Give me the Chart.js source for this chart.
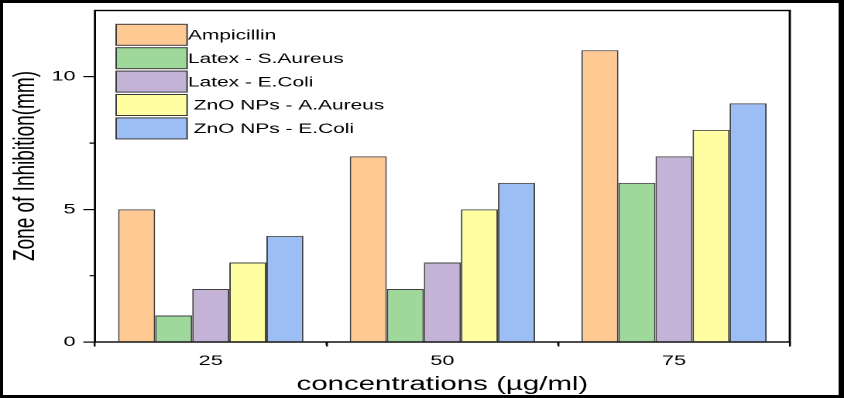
<!DOCTYPE html>
<html>
<head>
<meta charset="utf-8" />
<script src="https://cdn.jsdelivr.net/npm/chart.js@4.4.0/dist/chart.umd.min.js"></script>
<style>
 html, body { margin: 0; padding: 0; background: #fff; }
 #chart { display: block; }
</style>
<title>Zone of Inhibition</title>
</head>
<body>
<canvas id="chart" width="545" height="398" style="width:844px;height:398px"></canvas>
<script>
var concentrations = ['25', '50', '75'];
var ampicillin = [5, 7, 11];
var latexSAureus = [1, 2, 6];
var latexEColi = [2, 3, 7];
var znoAAureus = [3, 5, 8];
var znoEColi = [4, 6, 9];
var seriesNames = ['Ampicillin', 'Latex - S.Aureus', 'Latex - E.Coli', ' ZnO NPs - A.Aureus', ' ZnO NPs - E.Coli'];
var seriesColors = ['#FFC994', '#9ED99B', '#C4B3D6', '#FFFFA1', '#9DBEF5'];
var yTicks = [0, 5, 10];
var yMinorTicks = [2.5, 7.5];

// the original picture is stretched sideways, so draw narrow and let css widen it
var FONT = '"Liberation Sans", Arial, sans-serif';

var decor = {
    id: 'decor',
    beforeDraw: function(chart) {
        var ctx = chart.ctx;
        ctx.save();
        ctx.fillStyle = '#fff';
        ctx.fillRect(0, 0, chart.width, chart.height);
        ctx.restore();
    },
    afterDraw: function(chart) {
        var ctx = chart.ctx, a = chart.chartArea;
        var x = chart.scales.x, y = chart.scales.y;
        ctx.save();
        // box round the plot
        ctx.strokeStyle = '#000';
        ctx.lineWidth = 1.4;
        ctx.strokeRect(a.left, a.top, a.right - a.left, a.bottom - a.top);
        // minor ticks
        ctx.lineWidth = 1.2;
        ctx.beginPath();
        yMinorTicks.forEach(function(v) {
            var py = y.getPixelForValue(v);
            ctx.moveTo(a.left - 3.5, py);
            ctx.lineTo(a.left, py);
        });
        for (var i = 0; i < concentrations.length - 1; i++) {
            var px = (x.getPixelForValue(i) + x.getPixelForValue(i + 1)) / 2;
            ctx.moveTo(px, a.bottom);
            ctx.lineTo(px, a.bottom + 3);
        }
        ctx.stroke();
        // legend inside the plot
        ctx.font = '13.5px ' + FONT;
        ctx.textBaseline = 'middle';
        ctx.textAlign = 'left';
        chart.data.datasets.forEach(function(ds, i) {
            var top = 24.3 + i * 23.4;
            ctx.fillStyle = ds.backgroundColor;
            ctx.fillRect(75, top, 45.8, 21);
            ctx.strokeStyle = '#3a3a3a';
            ctx.lineWidth = 1;
            ctx.strokeRect(75, top, 45.8, 21);
            ctx.fillStyle = '#000';
            ctx.fillText(ds.label, 121.4, top + 11.5);
        });
        // axis titles
        ctx.font = '19px ' + FONT;
        ctx.textAlign = 'center';
        ctx.fillText('concentrations (µg/ml)', (a.left + a.right) / 2, 385);
        ctx.translate(16.8, 166);
        ctx.rotate(-Math.PI / 2);
        ctx.fillText('Zone of Inhibition(mm)', 0, 0);
        ctx.restore();
        // outer black frame
        ctx.save();
        ctx.fillStyle = '#000';
        ctx.fillRect(0, 0, chart.width, 3);
        ctx.fillRect(0, 395, chart.width, 3);
        ctx.fillRect(0, 0, 2, chart.height);
        ctx.fillRect(541.5, 0, 3.5, chart.height);
        ctx.restore();
    }
};

var seriesValues = [ampicillin, latexSAureus, latexEColi, znoAAureus, znoEColi];
var datasets = seriesValues.map(function(vals, i) {
    return {
        label: seriesNames[i],
        data: vals,
        backgroundColor: seriesColors[i],
        borderColor: '#404040',
        borderWidth: 1
    };
});

var chart = new Chart(document.getElementById('chart'), {
    type: 'bar',
    data: { labels: concentrations, datasets: datasets },
    options: {
        responsive: false,
        devicePixelRatio: 2,
        animation: false,
        layout: { padding: { top: 10.5, right: 35, left: 0, bottom: 0 } },
        plugins: { legend: { display: false }, tooltip: { enabled: false } },
        datasets: { bar: { categoryPercentage: 0.8, barPercentage: 1 } },
        scales: {
            x: {
                grid: { drawOnChartArea: false, tickLength: 4.5, color: '#000', lineWidth: 1.2 },
                border: { display: false },
                ticks: { font: { size: 14, family: FONT }, color: '#000', padding: 6, maxRotation: 0 },
                afterFit: function(s) { s.height = 56; }
            },
            y: {
                min: 0,
                max: 12.5,
                afterBuildTicks: function(s) { s.ticks = yTicks.map(function(v) { return { value: v }; }); },
                grid: { drawOnChartArea: false, tickLength: 7.5, color: '#000', lineWidth: 1.2 },
                border: { display: false },
                ticks: { font: { size: 14, family: FONT }, color: '#000', padding: 5 },
                afterFit: function(s) { s.width = 61.3; s.paddingTop = 0; s.paddingBottom = 0; }
            }
        }
    },
    plugins: [decor]
});
chart.canvas.style.width = '844px';
chart.canvas.style.height = '398px';
</script>
</body>
</html>
